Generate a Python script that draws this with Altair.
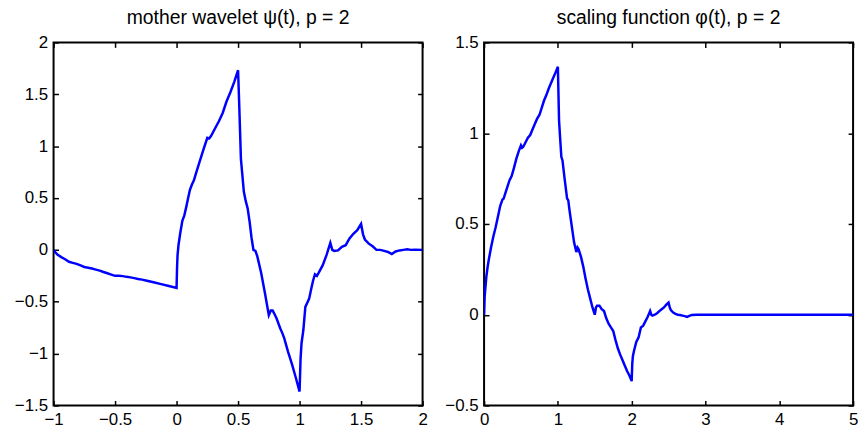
import altair as alt
import pandas as pd

# Daubechies p = 2 mother wavelet psi(t) on [-1, 2]
psi_t = [-1.0, -0.984, -0.969, -0.9375, -0.906, -0.875, -0.844, -0.8125, -0.781, -0.75,
         -0.719, -0.6875, -0.656, -0.625, -0.594, -0.5625, -0.531, -0.5, -0.469, -0.4375,
         -0.406, -0.375, -0.344, -0.3125, -0.281, -0.25, -0.1875, -0.125, -0.0625, 0.0,
         0.004, 0.008, 0.016, 0.031, 0.047, 0.0625, 0.078, 0.094, 0.109, 0.125,
         0.141, 0.156, 0.1875, 0.219, 0.25, 0.266, 0.281, 0.3125, 0.344, 0.375,
         0.406, 0.4375, 0.469, 0.5, 0.508, 0.516, 0.523, 0.547, 0.5625, 0.578,
         0.594, 0.609, 0.625, 0.641, 0.656, 0.6875, 0.719, 0.75, 0.766, 0.781,
         0.797, 0.8125, 0.844, 0.859, 0.875, 0.906, 0.9375, 0.969, 1.0, 1.008,
         1.016, 1.031, 1.047, 1.0625, 1.078, 1.094, 1.109, 1.125, 1.141, 1.156,
         1.1875, 1.219, 1.25, 1.266, 1.281, 1.3125, 1.344, 1.375, 1.406, 1.4375,
         1.469, 1.5, 1.516, 1.531, 1.5625, 1.594, 1.625, 1.656, 1.6875, 1.719,
         1.75, 1.781, 1.8125, 1.844, 1.875, 1.906, 1.9375, 2.0]
psi_v = [0.0, -0.025, -0.045, -0.07, -0.09, -0.115, -0.125, -0.135, -0.15, -0.165,
         -0.172, -0.18, -0.19, -0.2, -0.213, -0.225, -0.238, -0.25, -0.25, -0.253,
         -0.26, -0.265, -0.272, -0.28, -0.287, -0.295, -0.312, -0.33, -0.348, -0.366,
         -0.17, -0.05, 0.05, 0.17, 0.28, 0.33, 0.41, 0.5, 0.58, 0.63,
         0.67, 0.73, 0.85, 0.97, 1.08, 1.075, 1.1, 1.17, 1.24, 1.32,
         1.43, 1.52, 1.62, 1.732, 1.45, 1.15, 0.88, 0.56, 0.47, 0.4,
         0.27, 0.12, 0.0, -0.01, -0.06, -0.22, -0.42, -0.63, -0.585, -0.585,
         -0.62, -0.66, -0.76, -0.8, -0.85, -0.98, -1.1, -1.23, -1.366, -1.05,
         -0.9, -0.77, -0.55, -0.51, -0.47, -0.38, -0.3, -0.235, -0.25, -0.22,
         -0.15, -0.05, 0.067, 0.0, -0.01, -0.005, 0.03, 0.045, 0.11, 0.155,
         0.19, 0.25, 0.15, 0.1, 0.06, 0.035, 0.0, 0.0, -0.01, -0.02,
         -0.04, -0.015, -0.005, 0.0, 0.005, 0.0, 0.002, 0.0]

# Daubechies p = 2 scaling function phi(t) on [0, 5]
phi_t = [0.0, 0.008, 0.016, 0.031, 0.047, 0.0625, 0.094, 0.125, 0.156, 0.1875,
         0.219, 0.25, 0.266, 0.281, 0.3125, 0.344, 0.375, 0.406, 0.4375, 0.469,
         0.5, 0.516, 0.531, 0.5625, 0.594, 0.625, 0.656, 0.6875, 0.719, 0.75,
         0.781, 0.8125, 0.844, 0.875, 0.906, 0.9375, 0.969, 1.0, 1.016, 1.031,
         1.047, 1.0625, 1.094, 1.125, 1.141, 1.156, 1.1875, 1.219, 1.25, 1.266,
         1.281, 1.3125, 1.344, 1.375, 1.406, 1.4375, 1.469, 1.5, 1.516, 1.531,
         1.5625, 1.594, 1.625, 1.656, 1.6875, 1.719, 1.75, 1.781, 1.8125, 1.844,
         1.875, 1.906, 1.9375, 1.969, 2.0, 2.008, 2.016, 2.031, 2.0625, 2.094,
         2.125, 2.156, 2.1875, 2.219, 2.25, 2.266, 2.281, 2.3125, 2.344, 2.375,
         2.406, 2.4375, 2.469, 2.5, 2.516, 2.531, 2.5625, 2.594, 2.625, 2.656,
         2.6875, 2.719, 2.75, 2.781, 2.8125, 2.875, 3.0, 5.0]
phi_v = [0.0, 0.1, 0.14, 0.21, 0.26, 0.3, 0.37, 0.43, 0.48, 0.54,
         0.6, 0.635, 0.64, 0.66, 0.7, 0.74, 0.765, 0.81, 0.86, 0.9,
         0.933, 0.92, 0.925, 0.95, 0.975, 0.99, 1.02, 1.05, 1.08, 1.1,
         1.14, 1.18, 1.21, 1.245, 1.275, 1.305, 1.335, 1.366, 1.07, 0.97,
         0.87, 0.85, 0.74, 0.64, 0.63, 0.58, 0.49, 0.4, 0.345, 0.37,
         0.36, 0.32, 0.265, 0.2, 0.14, 0.09, 0.04, 0.0, 0.04, 0.05,
         0.05, 0.03, 0.02, -0.02, -0.05, -0.07, -0.09, -0.14, -0.185, -0.22,
         -0.25, -0.28, -0.31, -0.335, -0.366, -0.27, -0.23, -0.2, -0.15, -0.125,
         -0.07, -0.06, -0.035, -0.01, 0.02, 0.0, -0.005, 0.0, 0.008, 0.02,
         0.03, 0.04, 0.055, 0.067, 0.04, 0.025, 0.012, 0.005, 0.0, -0.002,
         -0.005, -0.008, -0.012, -0.006, -0.002, 0.0, 0.0, 0.0]

psi_xticks = [-1, -0.5, 0, 0.5, 1, 1.5, 2]
psi_yticks = [-1.5, -1, -0.5, 0, 0.5, 1, 1.5, 2]
phi_xticks = [0, 1, 2, 3, 4, 5]
phi_yticks = [-0.5, 0, 0.5, 1, 1.5]

FONT = "Liberation Sans"
BLUE = "#0000ff"
TICK = 5


def axis(orient, values, labels):
    # ticks drawn inward (negative offset), labels only on bottom/left
    return alt.Axis(
        orient=orient, values=values, offset=-TICK, tickSize=TICK, tickWidth=1.5,
        tickColor="black", domain=False, grid=False, labels=labels,
        labelPadding=6, labelFont=FONT, labelFontSize=17, labelColor="black",
        labelFlush=False, labelOverlap=False, format="~g", title=None,
    )


def panel(t, v, title, xdom, ydom, xt, yt):
    df = pd.DataFrame({"t": t, "v": v})
    xs = alt.Scale(domain=xdom, nice=False, zero=False)
    ys = alt.Scale(domain=ydom, nice=False, zero=False)
    curve = alt.Chart(df).mark_line(color=BLUE, strokeWidth=2.5, clip=True).encode(
        x=alt.X("t:Q", scale=xs, axis=axis("bottom", xt, True)),
        y=alt.Y("v:Q", scale=ys, axis=axis("left", yt, True)),
        order="t:Q",
    )
    mirror = alt.Chart(df).mark_line(opacity=0).encode(
        x=alt.X("t:Q", scale=xs, axis=axis("top", xt, False)),
        y=alt.Y("v:Q", scale=ys, axis=axis("right", yt, False)),
    )
    return alt.layer(curve, mirror).resolve_axis(
        x="independent", y="independent"
    ).properties(
        width=372, height=366,
        title=alt.TitleParams(
            text=title, font=FONT, fontSize=19.5, fontWeight="normal",
            color="black", anchor="middle", baseline="alphabetic", offset=-10,
        ),
    )


left = panel(psi_t, psi_v, "mother wavelet ψ(t), p = 2", [-1, 2], [-1.5, 2],
             psi_xticks, psi_yticks)
right = panel(phi_t, phi_v, "scaling function φ(t), p = 2", [0, 5], [-0.5, 1.5],
              phi_xticks, phi_yticks)

chart = alt.hconcat(left, right, spacing=62, bounds="flush").properties(
    padding={"left": 13, "top": 5, "right": 4, "bottom": 5},
    background="white",
).configure_view(stroke="black", strokeWidth=2)

chart.save("out.html", embed_options={"renderer": "svg", "actions": False})
